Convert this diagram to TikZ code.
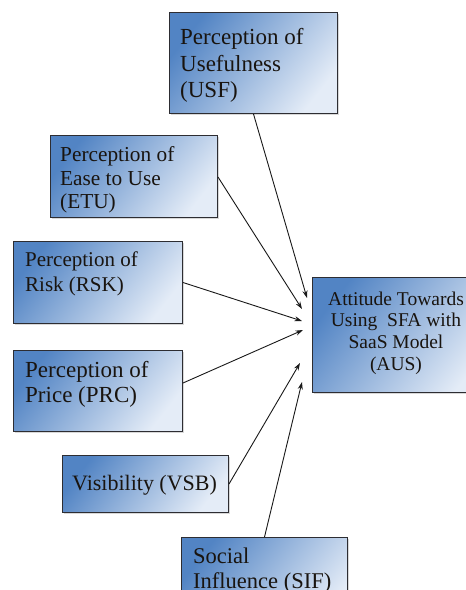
\documentclass[tikz,border=0pt]{standalone}
\usepackage{fontspec}
\setmainfont{Liberation Serif}
\usetikzlibrary{shadows,arrows.meta}
\definecolor{boxdark}{RGB}{82,132,196}
\definecolor{boxlight}{RGB}{228,236,247}
\definecolor{boxline}{RGB}{45,45,50}
\definecolor{txtcol}{RGB}{25,20,15}
\begin{document}
\begin{tikzpicture}[x=1pt,y=-1pt,
  box/.style={draw=boxline, line width=1pt, shading=axis, top color=boxdark, bottom color=boxlight, shading angle=52,
    drop shadow={shadow xshift=1.2pt,shadow yshift=-1.5pt,opacity=0.3}, inner sep=0pt, anchor=north west},
  txt/.style={inner sep=0pt, text=txtcol, align=left, anchor=north west},
  arr/.style={-{Stealth[length=7.5pt,width=5pt]}, line width=0.9pt, draw=black!90}]
\fill[white] (0,0) rectangle (466,590);
\clip (0,0) rectangle (466,590);
% boxes
\node[box, minimum width=168pt, minimum height=101pt] (usf) at (169,12) {};
\node[box, minimum width=167pt, minimum height=82pt] (etu) at (50,135) {};
\node[box, minimum width=169pt, minimum height=82pt] (rsk) at (13,241) {};
\node[box, minimum width=169pt, minimum height=81pt] (prc) at (13,350) {};
\node[box, minimum width=166pt, minimum height=57pt] (vsb) at (62,455) {};
\node[box, minimum width=166pt, minimum height=90pt] (sif) at (181,537) {};
\node[box, minimum width=180pt, minimum height=115pt] (aus) at (312,277) {};
% texts
\node[txt, font=\fontsize{23}{26.5}\selectfont] (usft) at (180,28.5) {Perception of\\Usefulness\\(USF)};
\node[txt, font=\fontsize{21.3}{23.5}\selectfont] (etut) at (60,146.5) {Perception of\\Ease to Use\\(ETU)};
\node[txt, font=\fontsize{21}{24.5}\selectfont] (rskt) at (25,252) {Perception of\\Risk (RSK)};
\node[txt, font=\fontsize{23}{25}\selectfont] (prct) at (25,361.5) {Perception of\\Price (PRC)};
\node[txt, anchor=base west, font=\fontsize{22}{25}\selectfont] (vsbt) at (72,490) {Visibility (VSB)};
\node[txt, font=\fontsize{22.5}{25}\selectfont] (sift) at (193,547.5) {Social\\Influence (SIF)};
\node[txt, anchor=north, align=center, font=\fontsize{19.5}{21.7}\selectfont] (aust) at (396,291.5) {Attitude Towards\\Using\ \ SFA with\\SaaS Model\\(AUS)};
% arrow tips
\coordinate (t1) at (307,298);
\coordinate (t2) at (302,309);
\coordinate (t3) at (302,321);
\coordinate (t4) at (303,330);
\coordinate (t5) at (300,363);
\coordinate (t6) at (302,382);
% connectors
\draw[arr] (usf.south) -- (t1);
\draw[arr] ([yshift=-42pt]etu.north east) -- (t2);
\draw[arr] (rsk.east) -- (t3);
\draw[arr] ([yshift=8pt]prc.east) -- (t4);
\draw[arr] (vsb.east) -- (t5);
\draw[arr] (sif.north) -- (t6);
\end{tikzpicture}
\end{document}
